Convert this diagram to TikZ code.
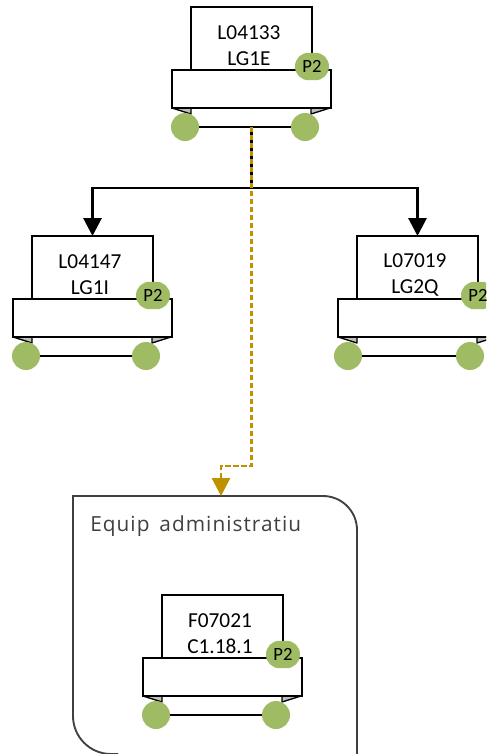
\documentclass[tikz,border=0pt]{standalone}
\usepackage{fontspec}
\setmainfont{Carlito}
\newfontfamily\eqfont[LetterSpace=5]{Open Sans}
\usetikzlibrary{arrows.meta}
\definecolor{leaf}{HTML}{9FBB63}
\definecolor{dots}{HTML}{BF9000}
\definecolor{edgegrey}{HTML}{404040}
\definecolor{shade}{HTML}{BFBFBF}
\tikzset{
  x=0.75pt,y=-0.75pt,
  boxline/.style={draw=black,line width=1.7pt,fill=white,line join=miter,outer sep=0pt},
  upperbox/.style={boxline,minimum width=90.5pt,minimum height=47.25pt,inner sep=0pt,anchor=north west},
  lowerbox/.style={boxline,minimum width=119.25pt,minimum height=28.5pt,inner sep=0pt,anchor=north west},
  wheel/.style={circle,fill=leaf,minimum size=21pt,inner sep=0pt},
  badge/.style={rounded corners=10.2pt,fill=leaf,minimum width=25.5pt,minimum height=20.6pt,inner sep=0pt,font=\fontsize{14pt}{15pt}\selectfont},
  wing/.style={fill=shade,draw=black,line width=1pt,line join=round},
  axle/.style={draw=black,line width=1.7pt},
  label/.style={align=center,font=\fontsize{16pt}{19.5pt}\selectfont,inner sep=0pt},
  solidlink/.style={draw=black,line width=2.2pt,-{Triangle[length=13.5pt,width=13.5pt]}},
  dottedlink/.style={draw=dots,line width=2.2pt,dash pattern=on 3.8pt off 2.2pt,-{Triangle[length=13.5pt,width=13.5pt,fill=dots]}},
}
\newcommand{\unitdraw}[6]{%
  \begin{scope}[shift={(#2,#3)}]
    \draw[wing] (-19,101) -- (0,107) -- (0,101) -- cycle;
    \draw[wing] (139,101) -- (120,107) -- (120,101) -- cycle;
    \node[upperbox] (#1up) at (0,0) {};
    \node[label] (#1txt) at (58,39) {#4};
    \node[lowerbox] (#1low) at (-19,63) {};
    \coordinate (#1top) at (60.5,0);
    \coordinate (#1bot) at (60.5,120);
    \node[wheel] (#1wl) at (#5,120) {};
    \node[wheel] (#1wr) at (#6,120) {};
    \draw[axle] (#1wl) -- (#1wr);
    \node[badge] (#1p) at (121,59.5) {P2};
  \end{scope}}
\begin{document}
\begin{tikzpicture}
\useasboundingbox[fill=white] (0,0) rectangle (486,754);
\begin{scope}
\clip (0,0) rectangle (486,754);
\draw[edgegrey,line width=1.4pt] (357,790) -- (357,530) arc[start angle=0,end angle=90,x radius=34,y radius=-34] -- (73,496) -- (73,716) arc[start angle=180,end angle=270,x radius=38,y radius=-38] -- (118,754);
\node[anchor=base west,inner sep=0pt,text=edgegrey,font=\eqfont\fontsize{15.6pt}{17pt}\selectfont] (eqtitle) at (90,531) {Equip\, administratiu};
\unitdraw{a}{191}{7}{L04133\\LG1E}{-6}{114}
\unitdraw{b}{32}{236}{L04147\\LG1I}{-6}{114}
\unitdraw{c}{357}{236}{L07019\\LG2Q}{-9}{113}
\unitdraw{d}{162}{595}{F07021\\C1.18.1}{-6}{114}
\coordinate (teamtop) at (221,496);
\draw[solidlink] (abot) -- (abot |- 0,188) -| (btop);
\draw[solidlink] (abot) -- (abot |- 0,188) -| (ctop);
\draw[dottedlink] (abot) -- (abot |- 0,466) -| (teamtop);
\end{scope}
\end{tikzpicture}
\end{document}
